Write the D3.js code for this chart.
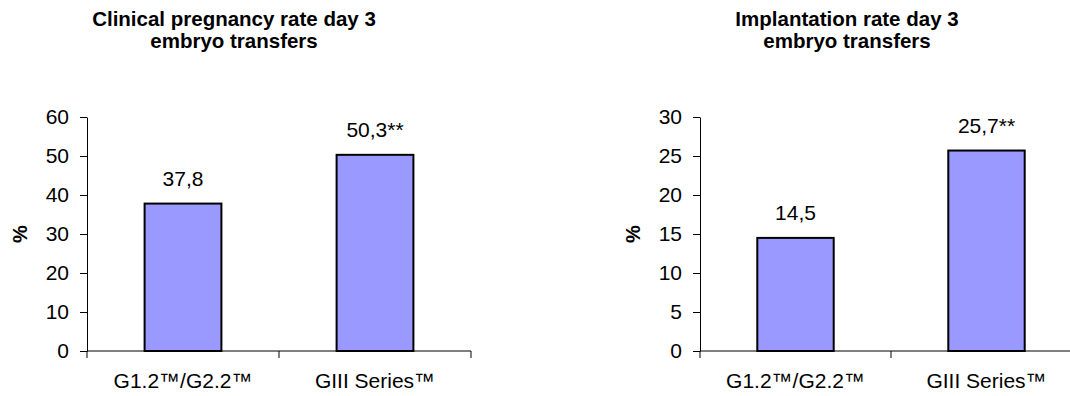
<!DOCTYPE html>
<html>
<head>
<meta charset="utf-8">
<script src="https://cdn.jsdelivr.net/npm/d3@7/dist/d3.min.js"></script>
<style>
  html, body { margin: 0; padding: 0; background: #fff; }
  svg { display: block; }
  text { font-family: "Liberation Sans", Arial, sans-serif; fill: #000; }
</style>
</head>
<body>
<svg id="chart" width="1070" height="396"></svg>
<script>
// ---- Data ----
const categories = ["G1.2™/G2.2™", "GIII Series™"];
const pregnancyValues = [37.8, 50.3];
const pregnancyLabels = ["37,8", "50,3**"];
const pregnancyTicks = [0, 10, 20, 30, 40, 50, 60];
const implantationValues = [14.5, 25.7];
const implantationLabels = ["14,5", "25,7**"];
const implantationTicks = [0, 5, 10, 15, 20, 25, 30];
const titleLeft = ["Clinical pregnancy rate day 3", "embryo transfers"];
const titleRight = ["Implantation rate day 3", "embryo transfers"];
const yLabel = "%";

const svg = d3.select("#chart");
const FS = "21px";

function drawChart(cfg) {
  const g = svg.append("g");
  const x = d3.scaleBand()
    .domain(categories)
    .range([cfg.x0, cfg.x1])
    .paddingInner(0.6)
    .paddingOuter(0.3);
  const y = d3.scaleLinear()
    .domain([0, d3.max(cfg.ticks)])
    .range([cfg.yBottom, cfg.yTop]);

  // Title
  const t = g.append("text")
    .attr("x", cfg.titleX)
    .attr("y", 26)
    .attr("text-anchor", "middle")
    .style("font-weight", "bold")
    .style("font-size", "20.5px");
  cfg.title.forEach((line, i) => {
    t.append("tspan").attr("x", cfg.titleX).attr("dy", i === 0 ? 0 : 22).text(line);
  });

  // Y axis
  const yAxis = d3.axisLeft(y)
    .tickValues(cfg.ticks)
    .tickSize(7)
    .tickSizeOuter(0)
    .tickPadding(11)
    .tickFormat(d3.format("d"));
  const ya = g.append("g")
    .attr("transform", `translate(${cfg.x0},0)`)
    .call(yAxis);
  ya.select(".domain").attr("stroke", "#000");
  ya.selectAll(".tick line").attr("stroke", "#000");
  ya.selectAll(".tick text")
    .style("font-size", FS)
    .style("font-family", "'Liberation Sans', Arial, sans-serif")
    .attr("fill", "#000");

  // Y label
  g.append("text")
    .attr("transform", `translate(${cfg.yLabelX},${(cfg.yTop + cfg.yBottom) / 2}) rotate(-90)`)
    .attr("text-anchor", "middle")
    .attr("dy", "0.35em")
    .style("font-weight", "bold")
    .style("font-size", "20px")
    .text(yLabel);

  // Bars
  g.selectAll("rect.bar")
    .data(cfg.values)
    .join("rect")
    .attr("class", "bar")
    .attr("x", (d, i) => x(categories[i]))
    .attr("y", d => y(d))
    .attr("width", x.bandwidth())
    .attr("height", d => y(0) - y(d))
    .attr("fill", "#9999ff")
    .attr("stroke", "#000")
    .attr("stroke-width", 2);

  // X axis line
  g.append("line")
    .attr("x1", cfg.x0).attr("x2", cfg.x1)
    .attr("y1", y(0)).attr("y2", y(0))
    .attr("stroke", "#000");

  // X boundary ticks
  const bounds = d3.range(categories.length + 1).map(i => cfg.x0 + i * x.step());
  g.selectAll("line.xtick")
    .data(bounds)
    .join("line")
    .attr("class", "xtick")
    .attr("x1", d => d).attr("x2", d => d)
    .attr("y1", y(0)).attr("y2", y(0) + 7)
    .attr("stroke", "#000");

  // Category labels
  g.selectAll("text.cat")
    .data(categories)
    .join("text")
    .attr("class", "cat")
    .attr("x", d => x(d) + x.bandwidth() / 2)
    .attr("y", y(0) + 37)
    .attr("text-anchor", "middle")
    .style("font-size", FS)
    .text(d => d);

  // Value labels
  g.selectAll("text.val")
    .data(cfg.values)
    .join("text")
    .attr("class", "val")
    .attr("x", (d, i) => x(categories[i]) + x.bandwidth() / 2)
    .attr("y", d => y(d) - 18)
    .attr("text-anchor", "middle")
    .style("font-size", FS)
    .text((d, i) => cfg.labels[i]);
}

drawChart({
  x0: 87, x1: 471, yTop: 117, yBottom: 351,
  ticks: pregnancyTicks, values: pregnancyValues, labels: pregnancyLabels,
  title: titleLeft, titleX: 234, yLabelX: 20
});
drawChart({
  x0: 700, x1: 1082, yTop: 117, yBottom: 351,
  ticks: implantationTicks, values: implantationValues, labels: implantationLabels,
  title: titleRight, titleX: 847, yLabelX: 633
});
</script>
</body>
</html>
